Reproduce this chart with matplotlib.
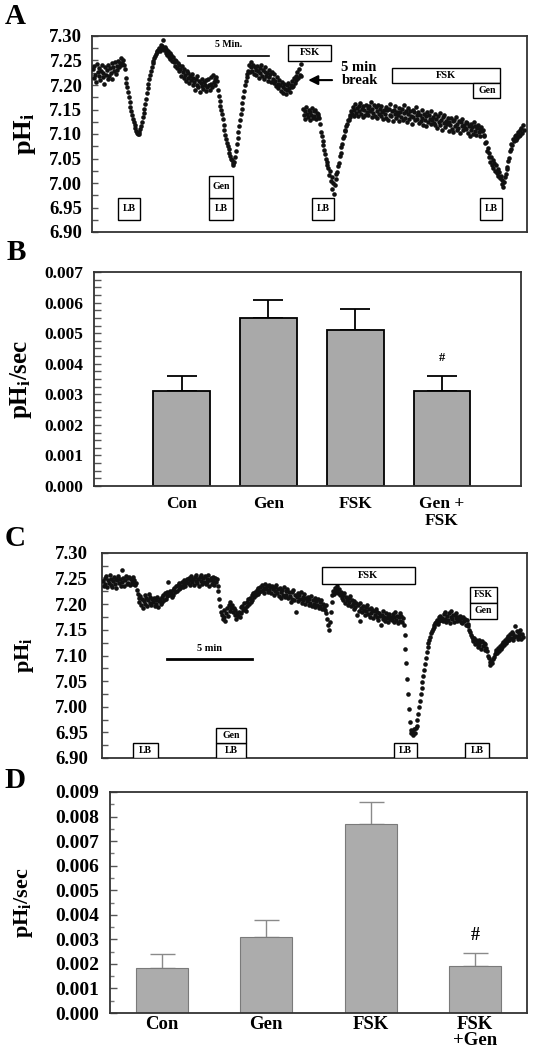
import numpy as np
import matplotlib
matplotlib.use('Agg')
import matplotlib.pyplot as plt
from matplotlib.patches import Rectangle
from matplotlib.ticker import MultipleLocator, FormatStrFormatter

plt.rcParams['font.family'] = ['Liberation Serif', 'DejaVu Serif']
plt.rcParams['font.weight'] = 'bold'
plt.rcParams['mathtext.fontset'] = 'custom'
plt.rcParams['mathtext.rm'] = 'Liberation Serif:bold'
plt.rcParams['mathtext.it'] = 'Liberation Serif:italic:bold'
plt.rcParams['mathtext.bf'] = 'Liberation Serif:bold'

# ---------------- data ----------------
sample_dt = 0.05  # min between samples

# Panel A, before the 5 min break (starts at t = 0 min)
A_pre_start = 0.0
A_pre = [
    7.232, 7.214, 7.238, 7.221, 7.207, 7.243, 7.226, 7.218, 7.235, 7.210, 7.229, 7.241, 7.216, 7.224, 7.203, 7.237, 7.220, 7.231, 7.212, 7.240,
    7.219, 7.234, 7.225, 7.244, 7.213, 7.236, 7.228, 7.247, 7.222, 7.239, 7.231, 7.250, 7.236, 7.245, 7.241, 7.256, 7.244, 7.251, 7.240, 7.232,
    7.215, 7.205, 7.196, 7.185, 7.175, 7.165, 7.155, 7.146, 7.138, 7.130, 7.124, 7.118, 7.112, 7.107, 7.103, 7.100, 7.101, 7.104, 7.110, 7.117,
    7.125, 7.134, 7.143, 7.152, 7.162, 7.172, 7.183, 7.193, 7.203, 7.212, 7.221, 7.229, 7.237, 7.244, 7.250, 7.256, 7.260, 7.264, 7.267, 7.270,
    7.272, 7.276, 7.270, 7.282, 7.274, 7.279, 7.291, 7.271, 7.277, 7.266, 7.273, 7.262, 7.270, 7.258, 7.265, 7.254, 7.261, 7.249, 7.257, 7.246,
    7.252, 7.238, 7.249, 7.234, 7.245, 7.229, 7.241, 7.232, 7.218, 7.238, 7.226, 7.215, 7.233, 7.221, 7.209, 7.228, 7.214, 7.224, 7.205, 7.219,
    7.211, 7.222, 7.199, 7.215, 7.206, 7.190, 7.212, 7.201, 7.219, 7.195, 7.208, 7.185, 7.204, 7.197, 7.213, 7.192, 7.206, 7.199, 7.188, 7.210,
    7.196, 7.212, 7.201, 7.190, 7.216, 7.203, 7.195, 7.221, 7.206, 7.213, 7.200, 7.216, 7.208, 7.190, 7.178, 7.168, 7.158, 7.148, 7.140, 7.130,
    7.118, 7.108, 7.098, 7.090, 7.082, 7.075, 7.069, 7.062, 7.056, 7.050, 7.046, 7.040, 7.036, 7.043, 7.053, 7.066, 7.079, 7.092, 7.104, 7.117,
    7.128, 7.140, 7.152, 7.164, 7.176, 7.188, 7.199, 7.208, 7.216, 7.223, 7.229, 7.241, 7.226, 7.236, 7.246, 7.228, 7.240, 7.222, 7.237, 7.231,
    7.220, 7.238, 7.229, 7.215, 7.234, 7.224, 7.241, 7.218, 7.230, 7.212, 7.227, 7.236, 7.219, 7.225, 7.209, 7.231, 7.216, 7.223, 7.207, 7.226,
    7.213, 7.204, 7.222, 7.209, 7.198, 7.216, 7.203, 7.194, 7.211, 7.200, 7.188, 7.207, 7.196, 7.184, 7.203, 7.192, 7.181, 7.199, 7.190, 7.205,
    7.193, 7.186, 7.201, 7.195, 7.209, 7.198, 7.214, 7.205, 7.219, 7.210, 7.226, 7.215, 7.232, 7.221, 7.242, 7.218,
]

# Panel A, after the 5 min break
A_post_start = 12.85
A_post = [
    7.152, 7.138, 7.147, 7.131, 7.156, 7.141, 7.134, 7.150, 7.128, 7.145, 7.139, 7.153, 7.132, 7.146, 7.137, 7.149, 7.130, 7.143, 7.136, 7.141,
    7.132, 7.120, 7.105, 7.095, 7.085, 7.077, 7.068, 7.060, 7.050, 7.043, 7.036, 7.030, 7.016, 7.024, 7.004, 7.012, 6.988, 7.001, 6.978, 6.996,
    7.008, 7.018, 7.022, 7.034, 7.040, 7.055, 7.062, 7.074, 7.080, 7.091, 7.096, 7.106, 7.108, 7.117, 7.120, 7.129, 7.128, 7.138, 7.135, 7.146,
    7.141, 7.156, 7.136, 7.150, 7.161, 7.142, 7.153, 7.137, 7.158, 7.146, 7.164, 7.140, 7.152, 7.135, 7.157, 7.148, 7.138, 7.160, 7.144, 7.153,
    7.139, 7.158, 7.146, 7.166, 7.135, 7.151, 7.143, 7.160, 7.137, 7.155, 7.147, 7.132, 7.159, 7.141, 7.152, 7.136, 7.157, 7.145, 7.130, 7.150,
    7.141, 7.155, 7.133, 7.148, 7.128, 7.152, 7.139, 7.161, 7.136, 7.146, 7.127, 7.150, 7.140, 7.157, 7.132, 7.145, 7.138, 7.153, 7.126, 7.144,
    7.135, 7.151, 7.129, 7.143, 7.160, 7.132, 7.147, 7.124, 7.140, 7.154, 7.131, 7.146, 7.137, 7.121, 7.150, 7.134, 7.144, 7.128, 7.156, 7.139,
    7.130, 7.145, 7.122, 7.138, 7.127, 7.149, 7.133, 7.118, 7.141, 7.129, 7.136, 7.116, 7.144, 7.125, 7.139, 7.131, 7.121, 7.146, 7.128, 7.135,
    7.123, 7.140, 7.118, 7.131, 7.112, 7.136, 7.125, 7.142, 7.119, 7.128, 7.109, 7.134, 7.122, 7.138, 7.114, 7.127, 7.120, 7.133, 7.107, 7.125,
    7.118, 7.132, 7.111, 7.126, 7.104, 7.129, 7.116, 7.135, 7.108, 7.121, 7.113, 7.127, 7.102, 7.124, 7.117, 7.130, 7.109, 7.119, 7.112, 7.125,
    7.110, 7.123, 7.103, 7.117, 7.095, 7.120, 7.108, 7.114, 7.100, 7.125, 7.107, 7.116, 7.098, 7.112, 7.119, 7.104, 7.111, 7.096, 7.115, 7.106,
    7.108, 7.096, 7.097, 7.081, 7.084, 7.066, 7.072, 7.054, 7.062, 7.043, 7.053, 7.036, 7.046, 7.031, 7.040, 7.025, 7.036, 7.020, 7.029, 7.015,
    7.022, 7.010, 7.014, 6.998, 7.006, 6.992, 7.002, 7.013, 7.018, 7.028, 7.032, 7.045, 7.052, 7.065, 7.070, 7.080, 7.078, 7.090, 7.085, 7.096,
    7.088, 7.098, 7.092, 7.104, 7.095, 7.108, 7.098, 7.112, 7.102, 7.118, 7.108,
]

# Panel C trace (starts at t = 0 min)
C_start = 0.0
C_trace = [
    7.246, 7.236, 7.252, 7.240, 7.255, 7.233, 7.248, 7.242, 7.257, 7.237, 7.250, 7.234, 7.245, 7.254, 7.239, 7.249, 7.231, 7.247, 7.256, 7.241,
    7.250, 7.236, 7.266, 7.243, 7.252, 7.235, 7.248, 7.256, 7.239, 7.251, 7.242, 7.254, 7.237, 7.249, 7.244, 7.253, 7.240, 7.247, 7.238, 7.241,
    7.228, 7.220, 7.212, 7.205, 7.216, 7.198, 7.211, 7.193, 7.206, 7.218, 7.201, 7.213, 7.196, 7.209, 7.220, 7.203, 7.214, 7.199, 7.210, 7.205,
    7.212, 7.197, 7.208, 7.201, 7.215, 7.194, 7.206, 7.210, 7.200, 7.214, 7.205, 7.218, 7.209, 7.221, 7.211, 7.224, 7.216, 7.244, 7.219, 7.226,
    7.222, 7.214, 7.228, 7.219, 7.231, 7.223, 7.235, 7.226, 7.238, 7.229, 7.241, 7.232, 7.236, 7.244, 7.234, 7.240, 7.247, 7.236, 7.243, 7.250,
    7.241, 7.252, 7.238, 7.248, 7.256, 7.243, 7.250, 7.237, 7.254, 7.246, 7.258, 7.241, 7.249, 7.236, 7.253, 7.245, 7.257, 7.240, 7.251, 7.244,
    7.255, 7.239, 7.250, 7.243, 7.257, 7.236, 7.248, 7.252, 7.240, 7.254, 7.245, 7.238, 7.251, 7.243, 7.249, 7.236, 7.225, 7.210, 7.196, 7.185,
    7.180, 7.172, 7.188, 7.176, 7.168, 7.183, 7.192, 7.178, 7.198, 7.186, 7.205, 7.192, 7.199, 7.185, 7.193, 7.179, 7.188, 7.172, 7.183, 7.177,
    7.185, 7.176, 7.194, 7.182, 7.197, 7.188, 7.203, 7.192, 7.186, 7.205, 7.196, 7.210, 7.200, 7.213, 7.204, 7.218, 7.209, 7.221, 7.214, 7.224,
    7.218, 7.228, 7.220, 7.231, 7.223, 7.234, 7.225, 7.237, 7.227, 7.232, 7.222, 7.240, 7.229, 7.235, 7.224, 7.238, 7.228, 7.233, 7.221, 7.236,
    7.230, 7.219, 7.234, 7.225, 7.238, 7.221, 7.229, 7.216, 7.232, 7.224, 7.213, 7.228, 7.219, 7.233, 7.215, 7.226, 7.218, 7.230, 7.212, 7.224,
    7.217, 7.205, 7.223, 7.211, 7.227, 7.208, 7.219, 7.184, 7.214, 7.221, 7.206, 7.218, 7.210, 7.224, 7.203, 7.215, 7.209, 7.220, 7.200, 7.212,
    7.206, 7.214, 7.198, 7.210, 7.203, 7.217, 7.196, 7.208, 7.201, 7.213, 7.194, 7.206, 7.199, 7.211, 7.192, 7.204, 7.197, 7.209, 7.190, 7.200,
    7.195, 7.188, 7.198, 7.182, 7.172, 7.160, 7.150, 7.165, 7.185, 7.205, 7.218, 7.226, 7.220, 7.232, 7.224, 7.236, 7.228, 7.221, 7.230, 7.218,
    7.224, 7.212, 7.219, 7.208, 7.222, 7.203, 7.215, 7.209, 7.198, 7.212, 7.205, 7.216, 7.196, 7.208, 7.201, 7.190, 7.206, 7.194, 7.203, 7.180,
    7.198, 7.187, 7.202, 7.168, 7.193, 7.184, 7.197, 7.189, 7.179, 7.194, 7.186, 7.199, 7.181, 7.190, 7.176, 7.192, 7.183, 7.188, 7.174, 7.186,
    7.180, 7.191, 7.176, 7.185, 7.170, 7.183, 7.177, 7.160, 7.180, 7.171, 7.186, 7.175, 7.168, 7.182, 7.173, 7.178, 7.166, 7.181, 7.172, 7.176,
    7.170, 7.181, 7.166, 7.176, 7.184, 7.169, 7.178, 7.163, 7.175, 7.182, 7.168, 7.177, 7.165, 7.174, 7.160, 7.140, 7.112, 7.085, 7.055, 7.025,
    6.995, 6.970, 6.955, 6.948, 6.952, 6.945, 6.956, 6.949, 6.958, 6.962, 6.975, 6.985, 7.000, 7.012, 7.024, 7.036, 7.048, 7.060, 7.072, 7.084,
    7.096, 7.106, 7.116, 7.124, 7.131, 7.137, 7.143, 7.148, 7.152, 7.156, 7.160, 7.163, 7.166, 7.169, 7.162, 7.175, 7.167, 7.178, 7.170, 7.174,
    7.168, 7.181, 7.172, 7.184, 7.166, 7.177, 7.170, 7.183, 7.164, 7.176, 7.186, 7.171, 7.179, 7.165, 7.180, 7.173, 7.182, 7.167, 7.175, 7.169,
    7.178, 7.166, 7.174, 7.163, 7.176, 7.168, 7.172, 7.160, 7.170, 7.162, 7.158, 7.150, 7.146, 7.140, 7.137, 7.132, 7.128, 7.134, 7.122, 7.130,
    7.124, 7.116, 7.131, 7.120, 7.127, 7.113, 7.129, 7.118, 7.125, 7.110, 7.122, 7.115, 7.108, 7.100, 7.095, 7.088, 7.082, 7.090, 7.085, 7.094,
    7.098, 7.102, 7.106, 7.110, 7.104, 7.114, 7.108, 7.118, 7.112, 7.122, 7.116, 7.126, 7.120, 7.131, 7.124, 7.135, 7.128, 7.138, 7.131, 7.142,
    7.134, 7.145, 7.130, 7.142, 7.136, 7.158, 7.138, 7.147, 7.133, 7.144, 7.139, 7.149, 7.132, 7.141, 7.136,
]

# Panel B bars
B_labels = ['Con', 'Gen', 'FSK', 'Gen +\nFSK']
B_values = [0.0031, 0.0055, 0.0051, 0.0031]
B_errors = [0.0005, 0.0006, 0.0007, 0.0005]

# Panel D bars
D_labels = ['Con', 'Gen', 'FSK', 'FSK\n+Gen']
D_values = [0.00185, 0.0031, 0.0077, 0.0019]
D_errors = [0.00055, 0.0007, 0.0009, 0.00055]

# ---------------- figure ----------------
W, H = 537, 1050
fig = plt.figure(figsize=(W / 100, H / 100), dpi=100)


def px_axes(l, t, r, b):
    return fig.add_axes([l / W, 1 - b / H, (r - l) / W, (b - t) / H])


def style_spines(ax, color='#333333', lw=1.3):
    for s in ax.spines.values():
        s.set_color(color)
        s.set_linewidth(lw)


def box(ax, x0, x1, y0, y1, text, fs=7):
    ax.add_patch(Rectangle((x0, y0), x1 - x0, y1 - y0, fc='white', ec='black',
                           lw=1.0, zorder=4))
    if text:
        ax.text((x0 + x1) / 2, (y0 + y1) / 2, text, ha='center', va='center',
                fontsize=fs, fontweight='bold', zorder=5)


def trace_axes(ax, ylabel_x, label_fs, tick_fs, pad):
    ax.set_ylim(6.90, 7.30)
    ax.yaxis.set_major_locator(MultipleLocator(0.05))
    ax.yaxis.set_minor_locator(MultipleLocator(0.025))
    ax.yaxis.set_major_formatter(FormatStrFormatter('%.2f'))
    ax.tick_params(axis='y', which='both', direction='in', length=4, width=1,
                   labelsize=tick_fs, pad=pad, right=False, color='#555555')
    ax.tick_params(axis='x', which='both', bottom=False, labelbottom=False)
    ax.set_ylabel(r'pH$_\mathbf{i}$', fontsize=label_fs, fontweight='bold')
    ax.yaxis.set_label_coords(ylabel_x, 0.5)
    style_spines(ax)


MS = 3.3

# ---------- Panel A ----------
axA = px_axes(92, 36, 527, 232)
tA1 = A_pre_start + sample_dt * np.arange(len(A_pre))
tA2 = A_post_start + sample_dt * np.arange(len(A_post))
axA.plot(tA1, A_pre, 'o', ms=MS, mew=0, color='#111111', zorder=3)
axA.plot(tA2, A_post, 'o', ms=MS, mew=0, color='#111111', zorder=3)
axA.set_xlim(-0.05, 26.55)
trace_axes(axA, -0.125, 19, 13.5, 7)

axA.plot([5.79, 10.79], [7.26, 7.26], color='black', lw=1.2)
axA.text(8.29, 7.283, '5 Min.', ha='center', va='center', fontsize=7)
box(axA, 11.95, 14.57, 7.250, 7.281, 'FSK', 7.5)
axA.annotate('', xy=(13.0, 7.21), xytext=(14.8, 7.21),
             arrowprops=dict(arrowstyle='-|>', color='black', lw=1.5,
                             mutation_scale=14))
axA.text(15.2, 7.222, '5 min\nbreak', ha='left', va='center', fontsize=10.5,
         linespacing=1.05)
box(axA, 18.29, 24.92, 7.205, 7.234, 'FSK', 7.5)
box(axA, 23.27, 24.92, 7.173, 7.205, 'Gen', 7)
for x0, x1 in [(1.54, 2.88), (7.13, 8.60), (13.41, 14.74), (23.66, 25.04)]:
    box(axA, x0, x1, 6.925, 6.970, 'LB', 7)
box(axA, 7.13, 8.60, 6.970, 7.015, 'Gen', 7)

# ---------- Panel B ----------
axB = px_axes(94, 272, 521, 486)
posB = np.arange(1, len(B_values) + 1)
axB.bar(posB, B_values, width=0.655, color='#a9a9a9', edgecolor='black',
        lw=1.3, zorder=2)
axB.errorbar(posB, B_values, yerr=[np.zeros(len(B_errors)), B_errors],
             fmt='none', ecolor='black', elinewidth=1.3, capsize=10.5,
             capthick=1.3, zorder=1)
axB.text(posB[3], 0.0042, '#', ha='center', va='center', fontsize=9)
axB.set_xlim(-0.01, 4.91)
axB.set_ylim(0, 0.007)
axB.set_xticks(posB)
axB.set_xticklabels(B_labels, fontsize=12.5, linespacing=1.1)
axB.tick_params(axis='x', length=0, pad=7)
axB.yaxis.set_major_locator(MultipleLocator(0.001))
axB.yaxis.set_minor_locator(MultipleLocator(0.00025))
axB.yaxis.set_major_formatter(FormatStrFormatter('%.3f'))
axB.tick_params(axis='y', which='both', direction='in', length=5, width=1,
                labelsize=12.5, pad=8, right=False, color='#555555')
axB.set_ylabel(r'pH$_\mathbf{i}$/sec', fontsize=18, fontweight='bold')
axB.yaxis.set_label_coords(-0.14, 0.5)
style_spines(axB)

# ---------- Panel C ----------
axC = px_axes(102, 553, 527, 758)
tC = C_start + sample_dt * np.arange(len(C_trace))
axC.plot(tC, C_trace, 'o', ms=MS, mew=0, color='#111111', zorder=3)
axC.set_xlim(-0.05, 24.95)
trace_axes(axC, -0.155, 16, 13.5, 10)

axC.plot([3.76, 8.76], [7.093, 7.093], color='black', lw=2)
axC.text(6.26, 7.114, '5 min', ha='center', va='center', fontsize=7.5)
box(axC, 12.88, 18.35, 7.240, 7.273, 'FSK', 7.5)
box(axC, 21.59, 23.18, 7.203, 7.234, 'FSK', 7)
box(axC, 21.59, 23.18, 7.172, 7.203, 'Gen', 7)
for x0, x1 in [(1.76, 3.24), (6.65, 8.41), (17.12, 18.47), (21.29, 22.71)]:
    box(axC, x0, x1, 6.900, 6.930, 'LB', 7)
box(axC, 6.65, 8.41, 6.930, 6.958, 'Gen', 7)

# ---------- Panel D ----------
axD = px_axes(110, 792, 527, 1013)
posD = np.arange(1, len(D_values) + 1)
axD.bar(posD, D_values, width=0.5, color='#acacac', edgecolor='#7a7a7a',
        lw=0.8, zorder=2)
axD.errorbar(posD, D_values, yerr=[np.zeros(len(D_errors)), D_errors],
             fmt='none', ecolor='#8a8a8a', elinewidth=1.0, capsize=9,
             capthick=1.0, zorder=1)
axD.text(posD[3], 0.00315, '#', ha='center', va='center', fontsize=13)
axD.set_xlim(0.5, 4.5)
axD.set_ylim(0, 0.009)
axD.set_xticks(posD)
axD.set_xticklabels(D_labels, fontsize=13.5, linespacing=0.95)
axD.tick_params(axis='x', length=0, pad=2)
axD.yaxis.set_major_locator(MultipleLocator(0.001))
axD.yaxis.set_minor_locator(MultipleLocator(0.0005))
axD.yaxis.set_major_formatter(FormatStrFormatter('%.3f'))
axD.tick_params(axis='y', which='major', direction='in', length=5, width=1,
                labelsize=14, pad=8, right=False, color='#555555')
axD.tick_params(axis='y', which='minor', direction='in', length=3, width=1,
                right=False, color='#777777')
axD.set_ylabel(r'pH$_\mathbf{i}$/sec', fontsize=16, fontweight='bold')
axD.yaxis.set_label_coords(-0.18, 0.5)
style_spines(axD)

# ---------- panel letters ----------
for letter, (x, y) in {'A': (15, 17), 'B': (16, 252), 'C': (15, 538),
                       'D': (15, 781)}.items():
    fig.text(x / W, 1 - y / H, letter, ha='center', va='center', fontsize=21,
             fontweight='bold')

fig.savefig('out.png', dpi=100)
